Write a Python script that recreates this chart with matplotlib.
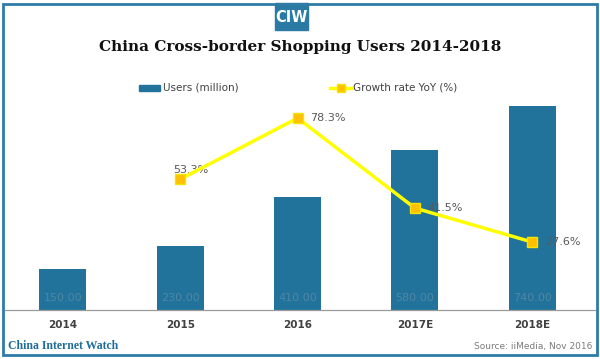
import matplotlib.pyplot as plt
from matplotlib.patches import Rectangle
from matplotlib.lines import Line2D

# data
years = ['2014', '2015', '2016', '2017E', '2018E']
users = [150, 230, 410, 580, 740]
growth_years = ['2015', '2016', '2017E', '2018E']
growth = [53.3, 78.3, 41.5, 27.6]

blue = '#22739b'
grey = '#595959'

fig = plt.figure(figsize=(6, 3.59), dpi=100)
fig.patch.set_facecolor('white')

ax = fig.add_axes([4.3/600, 49/359, 586.5/600, 210/359])
x = list(range(len(years)))
ax.bar(x, users, width=0.4, color=blue, zorder=2)
for xi, v in zip(x, users):
    ax.annotate(f'{v:.2f}', (xi, 0), xytext=(0, 8.6), textcoords='offset points',
                ha='center', va='center', fontsize=8, color='#4f86a4', zorder=3)
ax.set_xlim(-0.5, 4.5)
ax.set_ylim(0, 760)
ax.set_yticks([])
ax.set_xticks(x)
ax.set_xticklabels(years)
for lab in ax.get_xticklabels():
    lab.set_fontsize(7.5)
    lab.set_fontweight('bold')
    lab.set_color('#404040')
ax.tick_params(axis='x', length=0, pad=7)
for s in ['top', 'right', 'left', 'bottom']:
    ax.spines[s].set_visible(False)
# baseline runs across the whole panel
fig.lines.append(Line2D([5/600, 595/600], [49/359, 49/359], transform=fig.transFigure,
                        color='#9a9a9a', lw=0.9))

ax2 = ax.twinx()
gx = [years.index(y) for y in growth_years]
ax2.plot(gx, growth, color='#ffff00', lw=2.5, marker='s', markersize=7,
         markerfacecolor='#ffc000', markeredgecolor='#f5e400', zorder=4)
ax2.set_ylim(-0.2, 85.7)
ax2.set_yticks([])
for s in ['top', 'right', 'left', 'bottom']:
    ax2.spines[s].set_visible(False)
for i, (xi, v) in enumerate(zip(gx, growth)):
    if i == 0:
        ax2.annotate(f'{v}%', (xi, v), xytext=(-5, 3), textcoords='offset points',
                     ha='left', va='bottom', fontsize=8, color=grey)
    else:
        ax2.annotate(f'{v}%', (xi, v), xytext=(9, 0), textcoords='offset points',
                     ha='left', va='center', fontsize=8, color=grey)

# title and header
fig.text(0.5, 1 - 47/359, 'China Cross-border Shopping Users 2014-2018',
         ha='center', va='center', fontsize=11, fontweight='bold',
         family='DejaVu Serif', color='#111111')
fig.patches.append(Rectangle((275/600, 1 - 30/359), 33/600, 27/359,
                             transform=fig.transFigure, color='#2a7aa3'))
fig.text(291.5/600, 1 - 17/359, 'CIW', ha='center', va='center',
         fontsize=10.5, fontweight='bold', color='white', family='DejaVu Sans Condensed')

# border
fig.patches.append(Rectangle((3/600, 4/359), 594/600, 351/359, transform=fig.transFigure,
                             fill=False, edgecolor='#2e7ba6', lw=2))

# legend
fig.patches.append(Rectangle((139/600, 1 - 91/359), 21/600, 6/359,
                             transform=fig.transFigure, color=blue))
fig.text(163/600, 1 - 88/359, 'Users (million)', ha='left', va='center',
         fontsize=7.5, color='#404040')
fig.lines.append(Line2D([330/600, 351/600], [1 - 88/359, 1 - 88/359],
                        transform=fig.transFigure, color='#ffff00', lw=2.5, zorder=5))
fig.lines.append(Line2D([340.5/600], [1 - 88/359], transform=fig.transFigure,
                        marker='s', markersize=6, markerfacecolor='#ffc000',
                        markeredgecolor='#f5e400', lw=0, zorder=6))
fig.text(353/600, 1 - 88/359, 'Growth rate YoY (%)', ha='left', va='center',
         fontsize=7.5, color='#404040')

# footer
fig.text(8/600, 1 - 346/359, 'China Internet Watch', ha='left', va='center',
         fontsize=8.5, fontweight='bold', family='Liberation Serif', color='#1f6c9a')
fig.text(592/600, 1 - 346/359, 'Source: iiMedia, Nov 2016', ha='right',
         va='center', fontsize=6.5, color='#7a7a7a')

fig.savefig('out.png', dpi=100)
